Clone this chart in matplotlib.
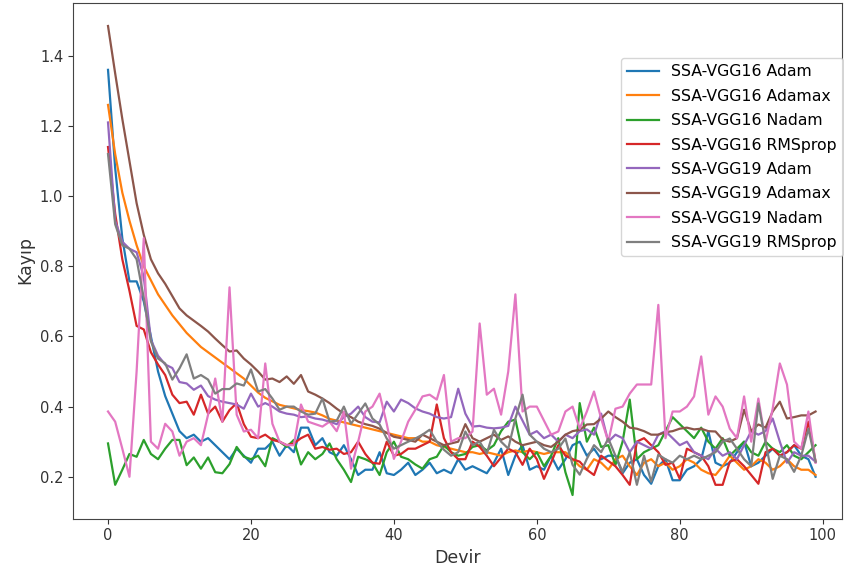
import matplotlib
matplotlib.use("Agg")
import matplotlib.pyplot as plt
import numpy as np

epochs = list(range(100))

vgg16_adam = [
    1.36, 1.08, 0.88, 0.757, 0.757, 0.70, 0.60, 0.50, 0.43, 0.38,
    0.33, 0.31, 0.32, 0.30, 0.31, 0.29, 0.27, 0.25, 0.28, 0.26,
    0.24, 0.28, 0.28, 0.30, 0.26, 0.29, 0.27, 0.34, 0.34, 0.29,
    0.31, 0.27, 0.26, 0.29, 0.25, 0.205, 0.22, 0.22, 0.27, 0.21,
    0.205, 0.22, 0.24, 0.205, 0.22, 0.24, 0.21, 0.22, 0.21, 0.25,
    0.22, 0.23, 0.22, 0.21, 0.24, 0.28, 0.205, 0.26, 0.29, 0.22,
    0.23, 0.22, 0.26, 0.22, 0.25, 0.29, 0.30, 0.26, 0.28, 0.25,
    0.26, 0.26, 0.21, 0.24, 0.25, 0.205, 0.18, 0.23, 0.25, 0.19,
    0.19, 0.22, 0.23, 0.25, 0.33, 0.24, 0.23, 0.24, 0.27, 0.30,
    0.23, 0.24, 0.26, 0.28, 0.26, 0.27, 0.29, 0.26, 0.25, 0.20,
]

vgg16_adamax = [
    1.26, 1.12, 1.01, 0.93, 0.86, 0.80, 0.76, 0.72, 0.69, 0.66,
    0.635, 0.61, 0.59, 0.57, 0.555, 0.54, 0.525, 0.51, 0.495, 0.48,
    0.46, 0.44, 0.425, 0.415, 0.405, 0.40, 0.395, 0.39, 0.387, 0.383,
    0.375, 0.365, 0.36, 0.355, 0.35, 0.345, 0.34, 0.335, 0.33, 0.325,
    0.32, 0.315, 0.31, 0.31, 0.30, 0.30, 0.29, 0.285, 0.28, 0.275,
    0.27, 0.27, 0.265, 0.27, 0.265, 0.26, 0.27, 0.275, 0.27, 0.275,
    0.27, 0.265, 0.27, 0.27, 0.27, 0.25, 0.23, 0.22, 0.25, 0.24,
    0.22, 0.25, 0.26, 0.23, 0.205, 0.24, 0.25, 0.23, 0.24, 0.22,
    0.23, 0.25, 0.24, 0.22, 0.21, 0.205, 0.23, 0.26, 0.24, 0.22,
    0.23, 0.25, 0.24, 0.22, 0.23, 0.25, 0.23, 0.22, 0.22, 0.205,
]

vgg16_nadam = [
    0.295, 0.177, 0.22, 0.265, 0.257, 0.305, 0.265, 0.25, 0.28, 0.305,
    0.305, 0.233, 0.255, 0.223, 0.255, 0.213, 0.21, 0.236, 0.285, 0.257,
    0.25, 0.26, 0.23, 0.31, 0.30, 0.285, 0.305, 0.235, 0.27, 0.25,
    0.265, 0.295, 0.25, 0.22, 0.185, 0.257, 0.25, 0.24, 0.205, 0.27,
    0.30, 0.257, 0.25, 0.235, 0.223, 0.25, 0.257, 0.29, 0.27, 0.26,
    0.265, 0.285, 0.29, 0.275, 0.29, 0.33, 0.357, 0.363, 0.27, 0.25,
    0.27, 0.23, 0.26, 0.31, 0.213, 0.148, 0.41, 0.30, 0.34, 0.285,
    0.29, 0.234, 0.30, 0.42, 0.25, 0.27, 0.28, 0.29, 0.33, 0.37,
    0.35, 0.33, 0.31, 0.34, 0.30, 0.28, 0.31, 0.26, 0.28, 0.30,
    0.27, 0.26, 0.30, 0.28, 0.27, 0.29, 0.26, 0.25, 0.27, 0.29,
]

vgg16_rmsprop = [
    1.14, 0.95, 0.82, 0.73, 0.63, 0.62, 0.555, 0.52, 0.49, 0.434,
    0.41, 0.414, 0.377, 0.434, 0.38, 0.40, 0.357, 0.39, 0.41, 0.35,
    0.314, 0.31, 0.32, 0.305, 0.30, 0.29, 0.295, 0.31, 0.32, 0.28,
    0.285, 0.277, 0.28, 0.265, 0.27, 0.30, 0.265, 0.24, 0.237, 0.30,
    0.26, 0.265, 0.28, 0.28, 0.29, 0.30, 0.406, 0.31, 0.27, 0.25,
    0.25, 0.30, 0.285, 0.26, 0.23, 0.255, 0.28, 0.27, 0.234, 0.28,
    0.25, 0.194, 0.24, 0.29, 0.26, 0.25, 0.243, 0.22, 0.205, 0.26,
    0.245, 0.23, 0.205, 0.177, 0.30, 0.31, 0.29, 0.27, 0.234, 0.24,
    0.194, 0.28, 0.27, 0.26, 0.23, 0.177, 0.177, 0.243, 0.25, 0.23,
    0.205, 0.18, 0.27, 0.28, 0.26, 0.27, 0.29, 0.28, 0.357, 0.243,
]

vgg19_adam = [
    1.21, 0.93, 0.87, 0.85, 0.84, 0.77, 0.59, 0.545, 0.52, 0.51,
    0.47, 0.466, 0.448, 0.46, 0.43, 0.42, 0.414, 0.41, 0.406, 0.394,
    0.437, 0.40, 0.41, 0.40, 0.386, 0.38, 0.377, 0.37, 0.372, 0.366,
    0.363, 0.357, 0.35, 0.37, 0.38, 0.40, 0.37, 0.357, 0.355, 0.414,
    0.386, 0.42, 0.41, 0.395, 0.386, 0.38, 0.37, 0.366, 0.37, 0.451,
    0.38, 0.343, 0.345, 0.34, 0.338, 0.34, 0.345, 0.40, 0.36, 0.32,
    0.33, 0.31, 0.32, 0.30, 0.32, 0.31, 0.33, 0.335, 0.32, 0.38,
    0.30, 0.32, 0.31, 0.27, 0.30, 0.29, 0.28, 0.32, 0.33, 0.31,
    0.29, 0.30, 0.27, 0.26, 0.25, 0.28, 0.26, 0.27, 0.25, 0.29,
    0.33, 0.32, 0.33, 0.366, 0.30, 0.24, 0.27, 0.26, 0.26, 0.243,
]

vgg19_adamax = [
    1.485, 1.35, 1.22, 1.10, 0.98, 0.89, 0.82, 0.78, 0.75, 0.715,
    0.68, 0.66, 0.645, 0.63, 0.614, 0.594, 0.575, 0.557, 0.56, 0.537,
    0.52, 0.50, 0.477, 0.48, 0.47, 0.486, 0.465, 0.49, 0.443, 0.434,
    0.423, 0.41, 0.394, 0.38, 0.37, 0.357, 0.35, 0.345, 0.337, 0.325,
    0.314, 0.31, 0.305, 0.30, 0.32, 0.31, 0.30, 0.29, 0.295, 0.30,
    0.35, 0.31, 0.30, 0.31, 0.32, 0.305, 0.315, 0.30, 0.29, 0.295,
    0.30, 0.29, 0.285, 0.30, 0.32, 0.33, 0.334, 0.349, 0.35, 0.366,
    0.386, 0.37, 0.357, 0.34, 0.337, 0.33, 0.32, 0.32, 0.327, 0.33,
    0.337, 0.34, 0.335, 0.337, 0.33, 0.329, 0.306, 0.30, 0.31, 0.391,
    0.33, 0.349, 0.34, 0.386, 0.414, 0.366, 0.37, 0.375, 0.375, 0.386,
]

vgg19_nadam = [
    0.386, 0.357, 0.28, 0.20, 0.50, 0.88, 0.30, 0.28, 0.351, 0.329,
    0.26, 0.30, 0.31, 0.29, 0.377, 0.48, 0.357, 0.74, 0.377, 0.329,
    0.334, 0.31, 0.523, 0.351, 0.30, 0.29, 0.29, 0.406, 0.357, 0.35,
    0.343, 0.357, 0.33, 0.386, 0.223, 0.30, 0.386, 0.40, 0.437, 0.351,
    0.251, 0.30, 0.357, 0.391, 0.429, 0.434, 0.42, 0.49, 0.30, 0.31,
    0.31, 0.329, 0.637, 0.434, 0.451, 0.377, 0.50, 0.72, 0.386, 0.40,
    0.40, 0.36, 0.32, 0.329, 0.386, 0.40, 0.337, 0.386, 0.443, 0.366,
    0.30, 0.394, 0.40, 0.437, 0.463, 0.463, 0.463, 0.69, 0.31, 0.386,
    0.386, 0.40, 0.429, 0.543, 0.377, 0.429, 0.40, 0.337, 0.31, 0.429,
    0.30, 0.423, 0.30, 0.394, 0.523, 0.463, 0.30, 0.28, 0.386, 0.24,
]

vgg19_rmsprop = [
    1.12, 0.92, 0.86, 0.85, 0.82, 0.71, 0.586, 0.537, 0.523, 0.477,
    0.509, 0.549, 0.48, 0.49, 0.477, 0.437, 0.45, 0.45, 0.466, 0.46,
    0.506, 0.443, 0.45, 0.423, 0.391, 0.40, 0.40, 0.386, 0.377, 0.38,
    0.423, 0.357, 0.36, 0.40, 0.351, 0.38, 0.409, 0.366, 0.349, 0.309,
    0.28, 0.29, 0.30, 0.309, 0.32, 0.334, 0.30, 0.277, 0.26, 0.27,
    0.329, 0.29, 0.30, 0.266, 0.334, 0.30, 0.28, 0.366, 0.434, 0.32,
    0.30, 0.28, 0.27, 0.28, 0.309, 0.234, 0.206, 0.251, 0.29, 0.27,
    0.309, 0.26, 0.214, 0.27, 0.177, 0.26, 0.186, 0.263, 0.25, 0.24,
    0.26, 0.25, 0.26, 0.25, 0.26, 0.27, 0.30, 0.309, 0.28, 0.25,
    0.23, 0.409, 0.30, 0.194, 0.26, 0.25, 0.214, 0.26, 0.337, 0.243,
]

labels = [
    "SSA-VGG16 Adam", "SSA-VGG16 Adamax", "SSA-VGG16 Nadam", "SSA-VGG16 RMSprop",
    "SSA-VGG19 Adam", "SSA-VGG19 Adamax", "SSA-VGG19 Nadam", "SSA-VGG19 RMSprop",
]
series = [vgg16_adam, vgg16_adamax, vgg16_nadam, vgg16_rmsprop,
          vgg19_adam, vgg19_adamax, vgg19_nadam, vgg19_rmsprop]

W, H = 844, 576
fig = plt.figure(figsize=(W / 100, H / 100), dpi=100)
ax_l, ax_r, ax_t, ax_b = 73, 842, 2.5, 518.5
ax = fig.add_axes([ax_l / W, 1 - ax_b / H, (ax_r - ax_l) / W, (ax_b - ax_t) / H])

for lab, ys in zip(labels, series):
    ax.plot(epochs, ys, label=lab, linewidth=1.6)

ax.set_xlim(-4.9, 102.7)
ax.set_ylim(0.081, 1.552)
ax.set_xticks([0, 20, 40, 60, 80, 100])
ax.set_yticks([0.2, 0.4, 0.6, 0.8, 1.0, 1.2, 1.4])
ax.tick_params(labelsize=10.5, colors="#333333")
for s in ax.spines.values():
    s.set_color("#444444")
ax.set_xlabel("Devir", fontsize=12.5, color="#333333")
ax.set_ylabel("Kayıp", fontsize=12.5, color="#333333")

leg_right, leg_top = 843, 58
ax.legend(loc="upper right",
          bbox_to_anchor=((leg_right - ax_l) / (ax_r - ax_l), (ax_b - leg_top) / (ax_b - ax_t)),
          borderaxespad=0, fontsize=11.3, labelspacing=0.6)

fig.savefig("out.png", dpi=100)
